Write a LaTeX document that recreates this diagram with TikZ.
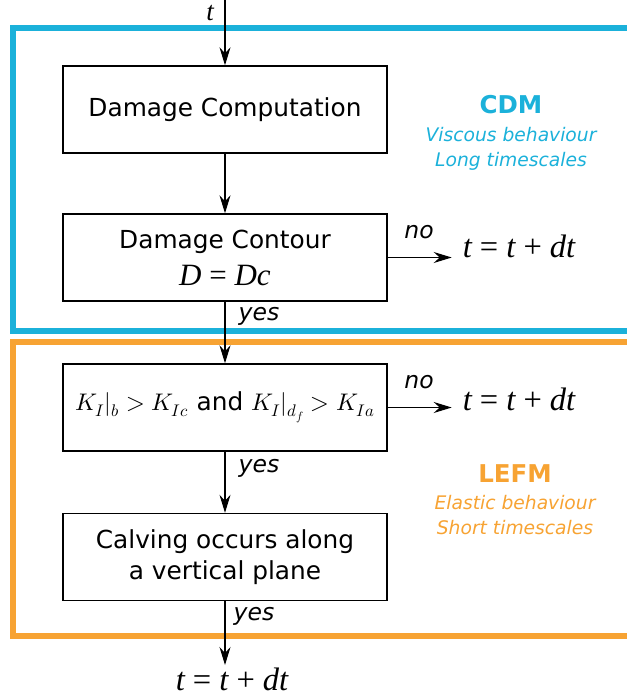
\documentclass[tikz,border=0pt]{standalone}
\usepackage{fontspec}
\usepackage{unicode-math}
\setmathfont{Latin Modern Math}
\setmainfont{DejaVu Sans}
\newfontfamily\libser{Liberation Serif}
\usetikzlibrary{arrows.meta}
\definecolor{cdmblue}{HTML}{1BB1DA}
\definecolor{lefmorange}{HTML}{F7A333}
\tikzset{
  stepbox/.style={draw=black, line width=1.4pt, minimum width=324pt, minimum height=87pt, align=center, inner sep=0pt, font=\fontsize{24.8}{31}\selectfont},
  flow/.style={draw=black, line width=1.1pt, -{Stealth[length=18pt,width=11pt,inset=6pt]}},
  lbl/.style={font=\fontsize{23.5}{28}\selectfont\itshape, inner sep=0pt},
  eqn/.style={font=\fontsize{32.5}{38}\selectfont\libser, inner sep=0pt},
  frame/.style={line width=6pt}
}
\begin{document}
\begin{tikzpicture}[x=1pt,y=-1pt]
\useasboundingbox (0,0) rectangle (626,700);
% frames
\draw[frame, cdmblue] (632,28.5) -- (12.5,28.5) -- (12.5,331) -- (632,331);
\draw[frame, lefmorange] (632,341.5) -- (12.5,341.5) -- (12.5,636) -- (632,636);
% boxes
\node[stepbox] (b1) at (225,109.5) {Damage Computation};
\node[stepbox] (b2) at (225,257.5) {Damage Contour\\[6pt]{\fontsize{31}{34}\selectfont\libser\itshape D \upshape=\itshape\ Dc}};
\node[stepbox] (b3) at (225,407.5) {{\fontsize{24}{28}\selectfont$K_I|_b > K_{Ic}$} and {\fontsize{24}{28}\selectfont$K_I|_{d_f} > K_{Ia}$}};
\node[stepbox] (b4) at (225,557) {Calving occurs along\\a vertical plane};
% start
\coordinate (start) at (225,0);
\node[font=\fontsize{27}{32}\selectfont\libser\itshape, inner sep=0pt, anchor=base] (tin) at (210,20.5) {t};
\draw[flow] (start) -- (b1.north);
\draw[flow] (b1.south) -- (b2.north);
\draw[flow] (b2.south) -- (b3.north);
\draw[flow] (b3.south) -- (b4.north);
% outputs
\node[eqn, anchor=base] (o2) at (519,258) {\itshape t \upshape= \itshape t \upshape+ \itshape dt};
\node[eqn, anchor=base] (o3) at (519,410) {\itshape t \upshape= \itshape t \upshape+ \itshape dt};
\node[eqn, anchor=base] (o4) at (232,690) {\itshape t \upshape= \itshape t \upshape+ \itshape dt};
\draw[flow] (b2.east) -- ++(64,0) coordinate (e2);
\draw[flow] (b3.east) -- ++(64,0) coordinate (e3);
\draw[flow] (b4.south) -- (225,665) coordinate (e4);
% labels
\node[lbl, anchor=base] (n2) at (419,239) {no};
\node[lbl, anchor=base] (n3) at (419,388) {no};
\node[lbl, anchor=base] (y2) at (259,320) {yes};
\node[lbl, anchor=base] (y3) at (259,472) {yes};
\node[lbl, anchor=base] (y4) at (254,620) {yes};
% region titles
\node[font=\fontsize{24.5}{28}\selectfont\bfseries, text=cdmblue, anchor=base] (cdm) at (511,114) {CDM};
\node[font=\fontsize{18.7}{24.5}\selectfont\itshape, text=cdmblue, align=center, anchor=north] (cdmtxt) at (511,124) {Viscous behaviour\\Long timescales};
\node[font=\fontsize{24.5}{28}\selectfont\bfseries, text=lefmorange, anchor=base] (lefm) at (515,482) {LEFM};
\node[font=\fontsize{18.7}{24.5}\selectfont\itshape, text=lefmorange, align=center, anchor=north] (lefmtxt) at (515,492) {Elastic behaviour\\Short timescales};
\end{tikzpicture}
\end{document}
